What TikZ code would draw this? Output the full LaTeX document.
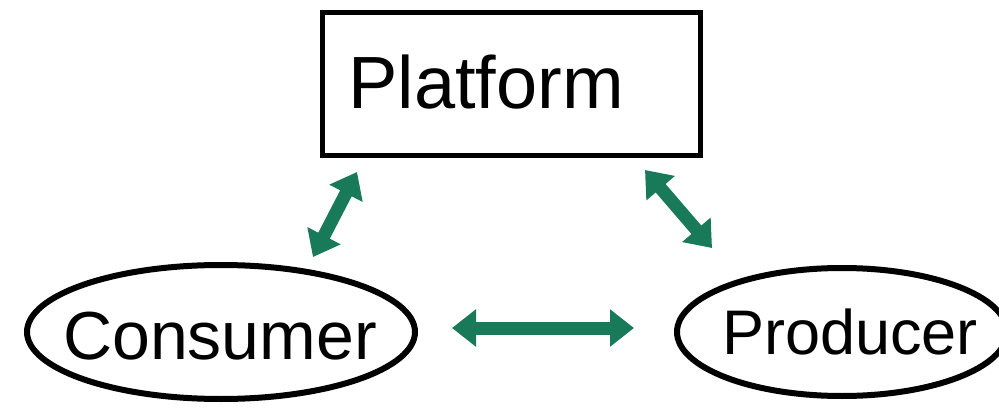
\documentclass[tikz,border=0pt]{standalone}
\usepackage{fontspec}
\setmainfont{Liberation Sans}
\usetikzlibrary{shapes.geometric,arrows.meta}
\definecolor{arrgreen}{RGB}{24,122,88}
\begin{document}
\begin{tikzpicture}[x=1pt,y=-1pt,
  box/.style={draw=black,line width=5pt,minimum width=378pt,minimum height=143pt,inner sep=0pt},
  blob/.style={draw=black,ellipse,line width=6pt,inner sep=0pt},
  arr/.style={draw=arrgreen,line width=13pt,{Triangle[width=36pt,length=24pt]}-{Triangle[width=36pt,length=24pt]}},
  lbl/.style={font=\fontsize{#1}{#1}\selectfont,inner sep=0pt}]
\useasboundingbox[fill=white] (0,0) rectangle (999,409);
\node[box] (plat) at (511,84) {};
\node[lbl=74] (platl) at (486,82) {Platform};
\node[blob,minimum width=388pt,minimum height=134pt] (cons) at (221,332) {};
\node[lbl=68] (consl) at (220,336) {Consumer};
\node[blob,minimum width=330pt,minimum height=128pt] (prod) at (842,332) {};
\node[lbl=63] (prodl) at (850,332) {Producer};
\coordinate (pa) at (357,172);
\coordinate (ca) at (313,257);
\coordinate (pb) at (645,170);
\coordinate (rb) at (712,248);
\coordinate (cc) at (452,328);
\coordinate (rc) at (634,328);
\draw[arr] (pa) -- (ca);
\draw[arr] (pb) -- (rb);
\draw[arr] (cc) -- (rc);
\end{tikzpicture}
\end{document}
